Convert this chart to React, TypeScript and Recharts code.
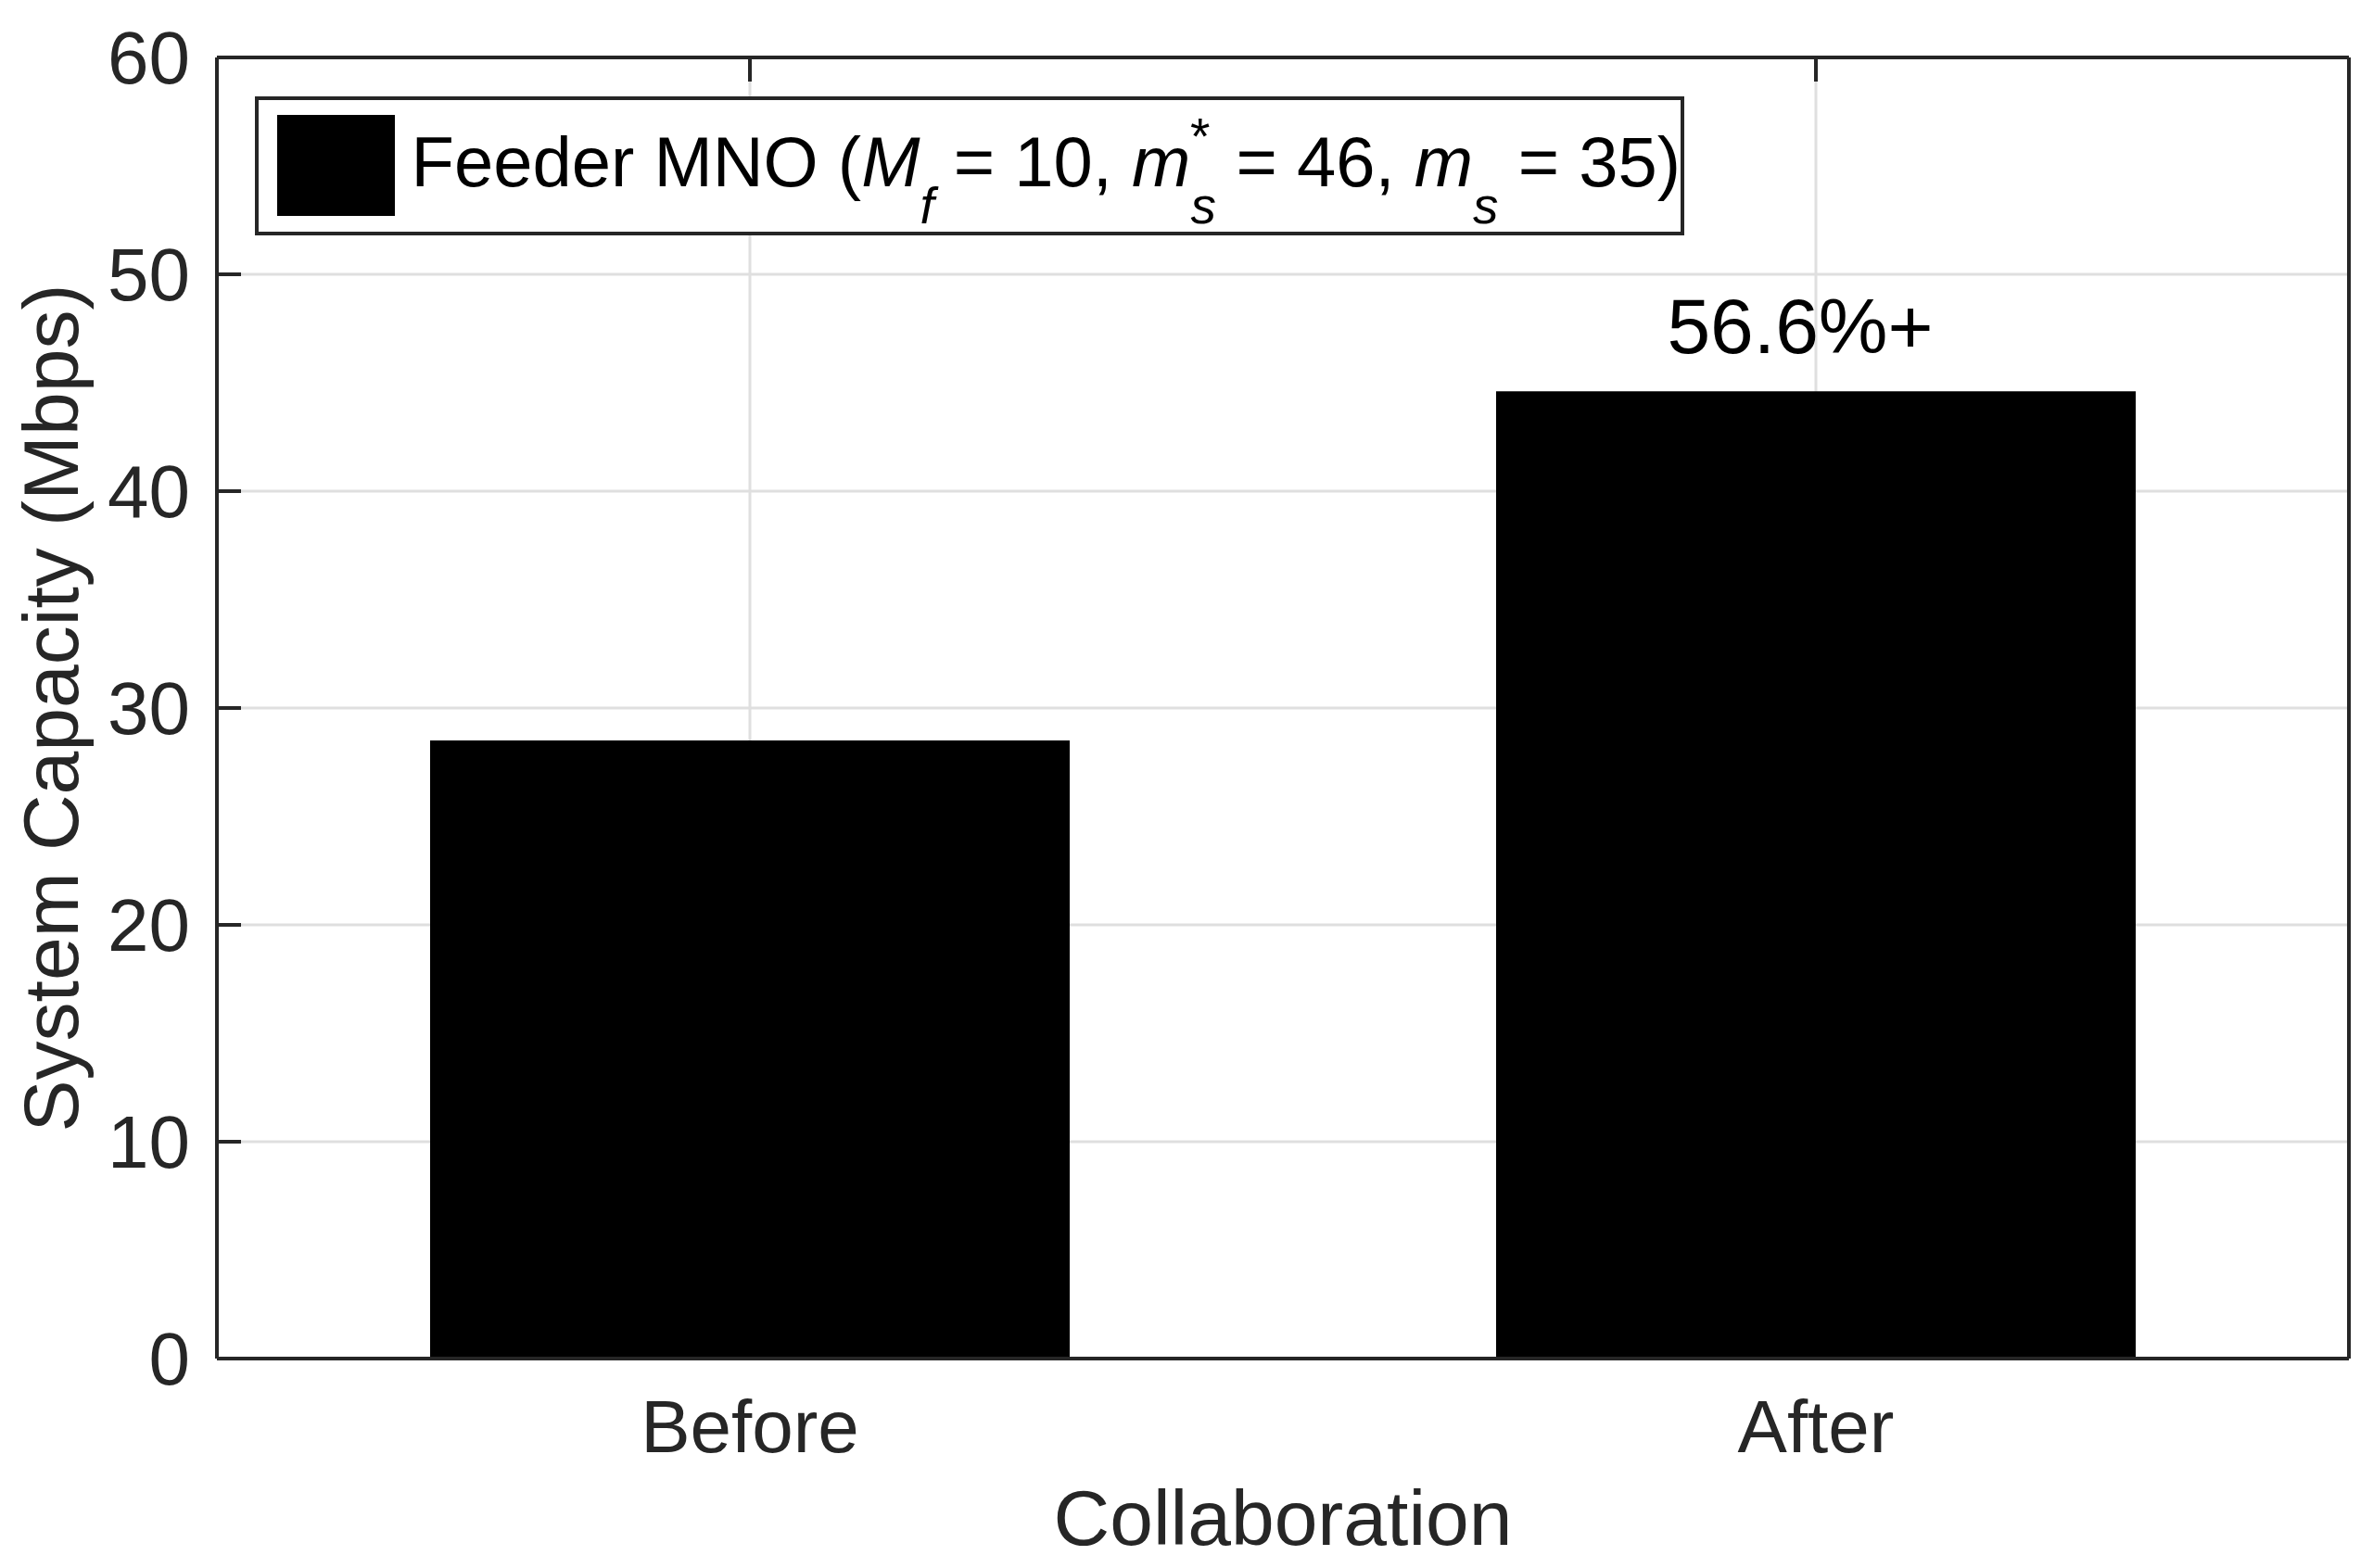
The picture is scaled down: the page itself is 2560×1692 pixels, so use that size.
import React from 'react';
import {
  BarChart,
  Bar,
  XAxis,
  YAxis,
  CartesianGrid,
  Legend,
  LabelList,
  Label
} from 'recharts';

const categories = ['Before', 'After'];
const capacity = [28.5, 44.6];
const notes = ['', '56.6%+'];
const yTicks = [0, 10, 20, 30, 40, 50, 60];

const data = categories.map((name, i) => ({ name, capacity: capacity[i], note: notes[i] }));

const FONT = '"Liberation Sans", Arial, Helvetica, sans-serif';
const AXIS = '#262626';
const GRID = '#dfdfdf';
const TICK_LEN = 26;

const LeftTick = (props: any) => {
  const { x, y, payload } = props;
  const ax = x + 29;
  return (
    <g>
      <line x1={ax} x2={ax + TICK_LEN} y1={y} y2={y} stroke={AXIS} strokeWidth={4} />
      <text x={x} y={y} dy="0.355em" textAnchor="end" fontSize={80} fontFamily={FONT} fill={AXIS}>
        {payload.value}
      </text>
    </g>
  );
};

const RightTick = (props: any) => {
  const { x, y } = props;
  return <line x1={x - TICK_LEN} x2={x} y1={y} y2={y} stroke={AXIS} strokeWidth={4} />;
};

// bottom ticks sit under the bars in the original, so only the label is drawn
const BottomTick = (props: any) => {
  const { x, y, payload } = props;
  return (
    <text x={x} y={y} dy="0.71em" textAnchor="middle" fontSize={80} fontFamily={FONT} fill={AXIS}>
      {payload.value}
    </text>
  );
};

const TopTick = (props: any) => {
  const { x, y } = props;
  return <line x1={x} x2={x} y1={y} y2={y + TICK_LEN} stroke={AXIS} strokeWidth={4} />;
};

const YTitle = (props: any) => {
  const { viewBox } = props;
  const cx = viewBox.x + viewBox.width - 179;
  const cy = viewBox.y + viewBox.height / 2;
  return (
    <text
      x={cx}
      y={cy}
      transform={`rotate(-90 ${cx} ${cy})`}
      textAnchor="middle"
      dominantBaseline="central"
      fontSize={84}
      fontFamily={FONT}
      fill={AXIS}
    >
      System Capacity (Mbps)
    </text>
  );
};

const XTitle = (props: any) => {
  const { viewBox } = props;
  return (
    <text
      x={viewBox.x + viewBox.width / 2}
      y={viewBox.y + 201}
      textAnchor="middle"
      fontSize={84}
      fontFamily={FONT}
      fill={AXIS}
    >
      Collaboration
    </text>
  );
};

const Note = (props: any) => {
  const { x, y, width, value } = props;
  if (!value) return null;
  return (
    <text x={x + width / 2 - 17} y={y - 41} textAnchor="middle" fontSize={84} fontFamily={FONT} fill="#000">
      {value}
    </text>
  );
};

const sub: React.CSSProperties = { fontSize: 55, fontStyle: 'italic', position: 'relative', top: 40 };
const sup: React.CSSProperties = { fontSize: 55, position: 'relative', top: -35 };

const LegendBox = () => (
  <div
    style={{
      display: 'flex',
      alignItems: 'flex-start',
      border: `4px solid ${AXIS}`,
      background: '#fff',
      width: 1534,
      height: 142,
      boxSizing: 'content-box',
      fontFamily: FONT,
      color: '#000'
    }}
  >
    <div style={{ width: 129, height: 109, background: '#000', marginLeft: 20, marginTop: 16 }} />
    <div style={{ marginLeft: 17, marginTop: 19, fontSize: 76, lineHeight: '96px', whiteSpace: 'nowrap' }}>
      Feeder MNO (<i>M</i>
      <span style={sub}>f</span> = 10, <i>m</i>
      <span style={sub}>s</span>
      <span style={{ ...sup, marginLeft: -28, marginRight: 7 }}>*</span> = 46, <i>m</i>
      <span style={sub}>s</span> = 35)
    </div>
  </div>
);

export default function App() {
  return (
    <div style={{ width: 2552, height: 1684, background: '#fff' }}>
      <BarChart
        width={2552}
        height={1684}
        data={data}
        margin={{ top: 53, right: 25, bottom: 225, left: 225 }}
        barCategoryGap="20%"
      >
        <CartesianGrid xAxisId="bottom" yAxisId="left" stroke={GRID} strokeWidth={3} />
        <Bar
          xAxisId="bottom"
          yAxisId="left"
          dataKey="capacity"
          name="Feeder MNO"
          fill="#000"
          isAnimationActive={false}
        >
          <LabelList dataKey="note" content={Note} />
        </Bar>
        <XAxis
          xAxisId="bottom"
          dataKey="name"
          height={1}
          tickSize={0}
          tickMargin={44}
          tick={BottomTick}
          axisLine={{ stroke: AXIS, strokeWidth: 4 }}
          tickLine={false}
          interval={0}
        >
          <Label content={XTitle} />
        </XAxis>
        <XAxis
          xAxisId="top"
          orientation="top"
          dataKey="name"
          height={1}
          tickSize={0}
          tickMargin={0}
          tick={TopTick}
          axisLine={{ stroke: AXIS, strokeWidth: 4 }}
          tickLine={false}
          interval={0}
        />
        <YAxis
          yAxisId="left"
          width={1}
          domain={[0, 60]}
          ticks={yTicks}
          tickSize={0}
          tickMargin={29}
          tick={LeftTick}
          axisLine={{ stroke: AXIS, strokeWidth: 4 }}
          tickLine={false}
          interval={0}
        >
          <Label content={YTitle} />
        </YAxis>
        <YAxis
          yAxisId="right"
          orientation="right"
          width={1}
          domain={[0, 60]}
          ticks={yTicks}
          tickSize={0}
          tickMargin={0}
          tick={RightTick}
          axisLine={{ stroke: AXIS, strokeWidth: 4 }}
          tickLine={false}
          interval={0}
        />
        <Legend
          layout="vertical"
          align="center"
          verticalAlign="middle"
          wrapperStyle={{ left: 267, top: 96, width: 'auto' }}
          content={LegendBox}
        />
      </BarChart>
    </div>
  );
}
